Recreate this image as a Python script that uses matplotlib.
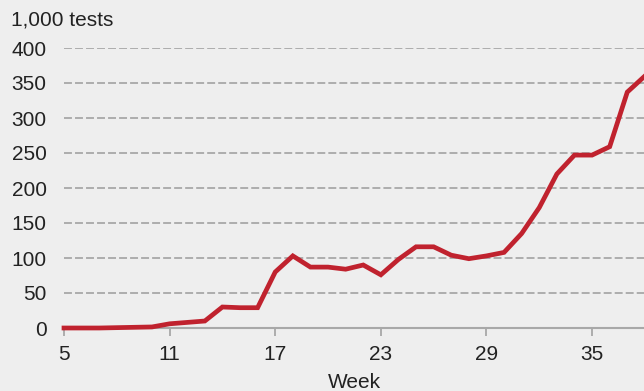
import matplotlib.pyplot as plt

weeks = list(range(5, 39))
tests = [0, 0, 0, 0.5, 1, 1.5, 6, 8, 10, 30, 29, 29, 80, 103, 87, 87, 84, 90, 76,
         98, 116, 116, 104, 99, 103, 108, 135, 172, 220, 247, 247, 259, 337, 360]

xticks = [5, 11, 17, 23, 29, 35]
yticks = [0, 50, 100, 150, 200, 250, 300, 350, 400]

bg = '#eeeeee'
txt = '#222222'
plt.rcParams['font.family'] = ['Liberation Sans', 'DejaVu Sans']

fig = plt.figure(figsize=(6.44, 3.91), dpi=100, facecolor=bg)
ax = fig.add_axes([64 / 644, 1 - 328 / 391, 580 / 644, 280 / 391])
ax.set_facecolor(bg)

ax.plot(weeks, tests, color='#c0222e', lw=3.4, solid_joinstyle='miter', clip_on=False, zorder=3)

ax.set_xlim(5, 37.95)
ax.set_ylim(0, 400)
ax.set_xticks(xticks)
ax.set_yticks(yticks)
ax.set_xticklabels([str(t) for t in xticks], fontsize=15, color=txt)
ax.set_yticklabels([str(t) for t in yticks], fontsize=15, color=txt)

# dashed horizontal guides
for y in yticks[1:]:
    ax.axhline(y, color='#a8a8a8', lw=1.3, ls=(0, (4.4, 1.7)), zorder=1)

for s in ['top', 'right', 'left']:
    ax.spines[s].set_visible(False)
ax.spines['bottom'].set_color('#a8a8a8')
ax.spines['bottom'].set_linewidth(1.5)
ax.tick_params(axis='x', direction='out', length=5.5, width=1.3, color='#a8a8a8', pad=7)
ax.tick_params(axis='y', length=0, pad=12.5)

ax.set_xlabel('Week', fontsize=15, color=txt, labelpad=6)
fig.text(11 / 644, 1 - 20 / 391, '1,000 tests', fontsize=15, color=txt, va='center', ha='left')

fig.savefig('out.png', dpi=100, facecolor=bg)
